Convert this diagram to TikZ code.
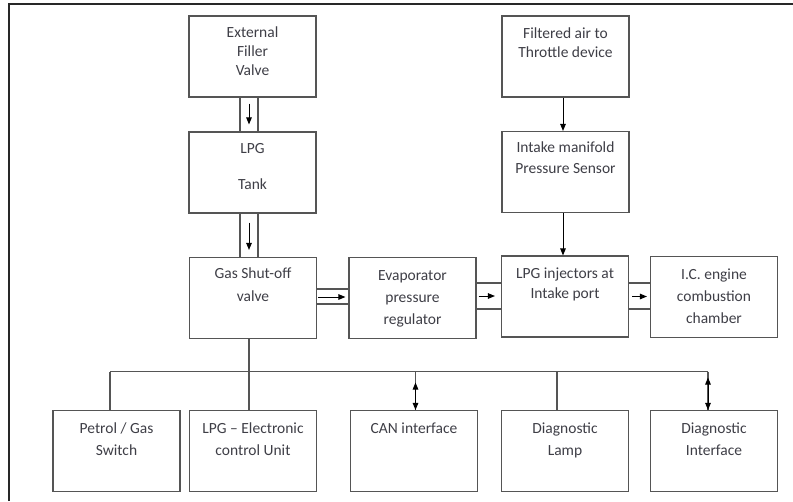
\documentclass[tikz,border=0pt]{standalone}
\usepackage{fontspec}
\setmainfont{Carlito}
\usetikzlibrary{arrows.meta,calc}
\definecolor{txtc}{RGB}{62,62,70}
\definecolor{boxc}{RGB}{85,85,85}
\definecolor{framec}{RGB}{40,40,40}
\newcommand\bxt[2]{{\fontsize{15.5}{#1}\selectfont\begin{tabular}[t]{@{}c@{}}#2\end{tabular}}}
\begin{document}
\begin{tikzpicture}[x=1pt,y=-1pt,
  blk/.style={draw=boxc,line width=1.1pt,inner sep=0pt,minimum width=127pt,minimum height=81pt},
  txt/.style={anchor=base,inner sep=0pt,text=txtc},
  pipe/.style={draw=boxc,line width=1.1pt},
  wire/.style={draw=boxc,line width=1.1pt},
  arr/.style={draw=black,line width=1pt,-{Triangle[length=7pt,width=5.5pt]}},
  dbl/.style={draw=black,line width=1pt,{Triangle[length=7pt,width=5.5pt]}-{Triangle[length=7pt,width=5.5pt]}}]
\useasboundingbox (0,0) rectangle (793,501);
% frame
\draw[framec,line width=1.4pt] (9,501) -- (9,4) -- (793,4);
% boxes
\node[blk] (ext)  at (252.5,56.5) {};
\node[blk] (tank) at (252.5,172.5) {};
\node[blk] (gas)  at (253,298) {};
\node[blk] (evap) at (412.5,298) {};
\node[blk] (inj)  at (565,296.5) {};
\node[blk] (ic)   at (714,297) {};
\node[blk] (air)  at (565.5,56.5) {};
\node[blk] (map)  at (565.5,172) {};
\node[blk] (pgs)  at (116.5,451) {};
\node[blk] (ecu)  at (253,451) {};
\node[blk] (can)  at (414,451) {};
\node[blk] (lamp) at (565,451) {};
\node[blk] (dint) at (714,451) {};
% texts
\node[txt] (t-ext)  at (252.5,37)  {\bxt{19}{External\\Filler\\Valve}};
\node[txt] (t-tank) at (252.5,153) {\bxt{36}{LPG\\Tank}};
\node[txt] (t-gas)  at (253,278)   {\bxt{23}{Gas Shut-off\\valve}};
\node[txt] (t-evap) at (412.5,280) {\bxt{22}{Evaporator\\pressure\\regulator}};
\node[txt] (t-inj)  at (565,278)   {\bxt{20}{LPG injectors at\\Intake port}};
\node[txt] (t-ic)   at (714,279)   {\bxt{22}{I.C. engine\\combustion\\chamber}};
\node[txt] (t-air)  at (565.5,38)  {\bxt{19}{Filtered air to\\Throttle device}};
\node[txt] (t-map)  at (565.5,152) {\bxt{21}{Intake manifold\\Pressure Sensor}};
\node[txt] (t-pgs)  at (116.5,433) {\bxt{22}{Petrol / Gas\\Switch}};
\node[txt] (t-ecu)  at (253,433)   {\bxt{22}{LPG -- Electronic\\control Unit}};
\node[txt] (t-can)  at (414,433)   {\bxt{22}{CAN interface}};
\node[txt] (t-lamp) at (565,433)   {\bxt{22}{Diagnostic\\Lamp}};
\node[txt] (t-dint) at (714,433)   {\bxt{22}{Diagnostic\\Interface}};
% vertical pipes
\draw[pipe] ([xshift=-12.5pt]ext.south) -- ([xshift=-12.5pt]tank.north);
\draw[pipe] ([xshift=5.5pt]ext.south) -- ([xshift=5.5pt]tank.north);
\draw[arr] ([xshift=-3.5pt,yshift=-6pt]ext.south) -- ([xshift=-3.5pt,yshift=7pt]tank.north);
\draw[pipe] ([xshift=-12.5pt]tank.south) -- ([xshift=-12.5pt]tank.south |- gas.north);
\draw[pipe] ([xshift=5.5pt]tank.south) -- ([xshift=5.5pt]tank.south |- gas.north);
\draw[arr] ([xshift=-3.5pt,yshift=-9pt]tank.south) -- ([xshift=-3.5pt,yshift=7pt]tank.south |- gas.north);
% horizontal pipes
\draw[pipe] ([yshift=9pt]gas.east) -- ([yshift=9pt]evap.west);
\draw[pipe] ([yshift=-6pt]gas.east) -- ([yshift=-6pt]evap.west);
\draw[arr] ([xshift=1pt,yshift=1pt]gas.east) -- ([xshift=-3pt,yshift=1pt]evap.west);
\draw[pipe] ([yshift=15pt]evap.east) -- ([yshift=15pt]evap.east -| inj.west);
\draw[pipe] ([yshift=-11pt]evap.east) -- ([yshift=-11pt]evap.east -| inj.west);
\draw[arr] ([xshift=2pt,yshift=2pt]evap.east) -- ([xshift=-6pt,yshift=2pt]evap.east -| inj.west);
\draw[pipe] ([yshift=13.5pt]inj.east) -- ([yshift=13.5pt]inj.east -| ic.west);
\draw[pipe] ([yshift=-12.5pt]inj.east) -- ([yshift=-12.5pt]inj.east -| ic.west);
\draw[arr] ([xshift=3pt]inj.east) -- ([xshift=-3pt]inj.east -| ic.west);
% air path
\draw[arr] ([xshift=-2.5pt]air.south) -- ([xshift=-2.5pt]map.north);
\draw[arr] ([xshift=-2.5pt]map.south) -- ([xshift=-2.5pt]map.south |- inj.north);
% bus
\coordinate (bL) at (110,371.5);
\coordinate (bR) at (708,371.5);
\draw[wire] (bL) -- (bR);
\draw[wire] (bL) -- (bL |- pgs.north);
\draw[wire] ([xshift=-4pt]gas.south) -- ([xshift=-4pt]ecu.north);
\draw[wire] ([xshift=1.5pt]can.north |- bL) -- ([xshift=1.5pt]can.north);
\draw[dbl] ([xshift=1.5pt,yshift=-11pt]can.north |- bL) -- ([xshift=1.5pt]can.north);
\draw[wire] ([xshift=-8pt]lamp.north |- bL) -- ([xshift=-8pt]lamp.north);
\draw[wire] (bR) -- (bR |- dint.north);
\draw[dbl] ([yshift=-6pt]bR) -- (bR |- dint.north);
\end{tikzpicture}
\end{document}
